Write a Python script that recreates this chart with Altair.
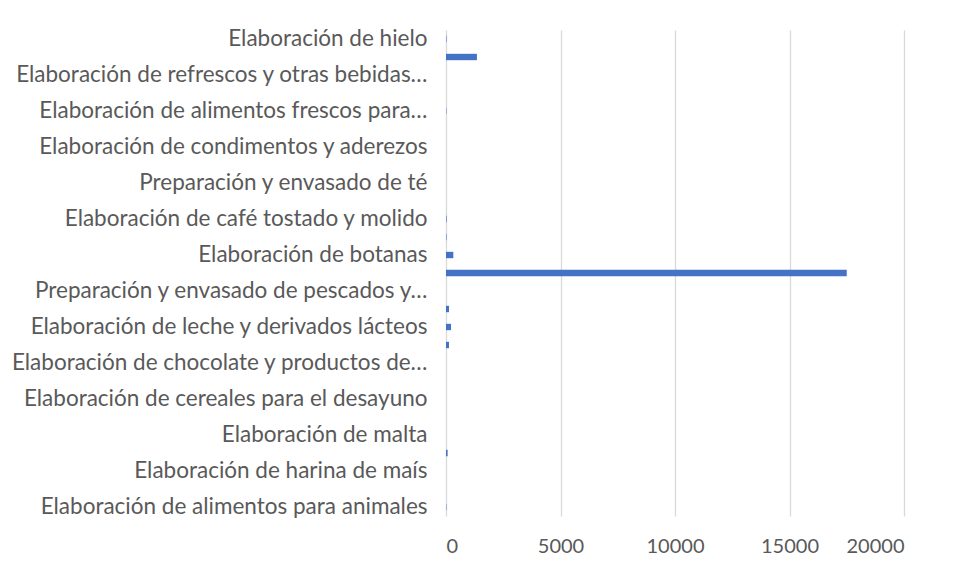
import altair as alt
import pandas as pd

# Categories listed top to bottom as they appear in the chart
categories = [
    "Elaboración de hielo",
    "Purificación y embotellado de agua",
    "Elaboración de refrescos y otras bebidas no alcohólicas",
    "Elaboración de otros alimentos",
    "Elaboración de alimentos frescos para consumo inmediato",
    "Elaboración de gelatinas y otros postres en polvo",
    "Elaboración de condimentos y aderezos",
    "Elaboración de concentrados, polvos y jarabes para bebidas",
    "Preparación y envasado de té",
    "Elaboración de café instantáneo",
    "Elaboración de café tostado y molido",
    "Beneficio del café",
    "Elaboración de botanas",
    "Elaboración de tortillas de maíz y molienda de nixtamal",
    "Preparación y envasado de pescados y mariscos",
    "Matanza, empacado y procesamiento de carne",
    "Elaboración de leche y derivados lácteos",
    "Conservación de frutas, verduras y alimentos preparados",
    "Elaboración de chocolate y productos de chocolate",
    "Elaboración de dulces, chicles y productos de confitería",
    "Elaboración de cereales para el desayuno",
    "Elaboración de aceites y grasas vegetales comestibles",
    "Elaboración de malta",
    "Elaboración de harina de trigo",
    "Elaboración de harina de maís",
    "Beneficio del arroz",
    "Elaboración de alimentos para animales",
]
values = [20, 1350, 0, 0, 15, 0, 0, 0, 0, 0, 25, 20, 320, 17500, 0,
          130, 220, 130, 0, 0, 0, 0, 0, 70, 0, 0, 15]

# Labels shown on the axis (every other category) and their displayed (truncated) text
shown_labels = categories[::2]
display_text = {
    "Elaboración de refrescos y otras bebidas no alcohólicas": "Elaboración de refrescos y otras bebidas…",
    "Elaboración de alimentos frescos para consumo inmediato": "Elaboración de alimentos frescos para…",
    "Preparación y envasado de pescados y mariscos": "Preparación y envasado de pescados y…",
    "Elaboración de chocolate y productos de chocolate": "Elaboración de chocolate y productos de…",
}
x_ticks = [0, 5000, 10000, 15000, 20000]

df = pd.DataFrame({"categoria": categories, "valor": values})

label_expr = "datum.value"
for full, short in display_text.items():
    label_expr = f"datum.value == '{full}' ? '{short}' : ({label_expr})"

FONT = "Lato"
GRAY = "#595959"

chart = (
    alt.Chart(df)
    .mark_bar(color="#4472C4")
    .encode(
        x=alt.X(
            "valor:Q",
            scale=alt.Scale(domain=[0, 20000], nice=False),
            axis=alt.Axis(
                values=x_ticks,
                format="d",
                title=None,
                domain=False,
                ticks=False,
                grid=True,
                gridColor="#d9d9d9",
                gridWidth=1.3,
                labelFont=FONT,
                labelFontSize=20,
                labelColor=GRAY,
                labelPadding=20,
            ),
        ),
        y=alt.Y(
            "categoria:N",
            sort=categories,
            scale=alt.Scale(paddingInner=0.645, paddingOuter=0.3225),
            axis=alt.Axis(
                values=shown_labels,
                labelExpr=label_expr,
                title=None,
                domain=False,
                ticks=False,
                grid=False,
                labelFont=FONT,
                labelFontSize=22.5,
                labelColor=GRAY,
                labelPadding=19,
                labelLimit=500,
            ),
        ),
    )
    .properties(
        width=458,
        height=486,
        autosize=alt.AutoSizeParams(type="none"),
        padding={"left": 438, "top": 22, "right": 50, "bottom": 53},
    )
    .configure_view(stroke=None)
)

chart.save("out.html", embed_options={"renderer": "svg", "actions": False})
